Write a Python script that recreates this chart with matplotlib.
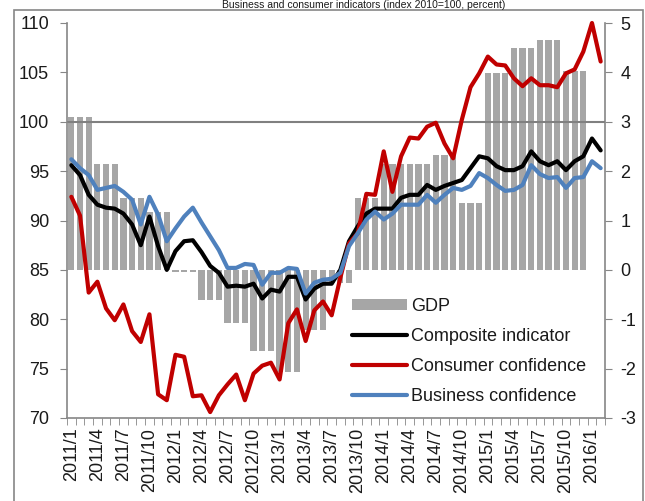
import numpy as np
import matplotlib
matplotlib.use("Agg")
import matplotlib.pyplot as plt
from matplotlib.patches import Rectangle

plt.rcParams["font.family"] = ["Liberation Sans", "DejaVu Sans"]
plt.rcParams["axes.unicode_minus"] = False

# months 2011/1 .. 2016/2
months = [f"{y}/{m}" for y in range(2011, 2017) for m in range(1, 13)][:62]

# GDP y/y %, quarterly (2011Q1 .. 2015Q4), shown on every month of the quarter
gdp_quarterly = [3.1, 2.15, 1.45, 1.17, -0.05, -0.62, -1.08, -1.65, -2.07, -1.21,
                 -0.27, 1.45, 2.15, 2.15, 2.32, 1.36, 3.99, 4.49, 4.66, 4.03]

composite = [95.6, 94.6, 92.6, 91.6, 91.3, 91.2, 90.7, 89.6, 87.5, 90.4,
             87.4, 85.0, 86.9, 87.9, 88.0, 86.8, 85.4, 84.7, 83.3, 83.4,
             83.3, 83.6, 82.1, 83.0, 82.8, 84.3, 84.3, 82.0, 83.1, 83.6,
             83.6, 85.0, 87.9, 89.4, 90.7, 91.2, 91.2, 91.2, 92.3, 92.6,
             92.6, 93.6, 93.1, 93.5, 93.8, 94.1, 95.3, 96.5, 96.3, 95.5,
             95.1, 95.1, 95.5, 97.0, 96.0, 95.6, 96.0, 95.1, 96.0, 96.5,
             98.3, 97.1]

consumer = [92.4, 90.5, 82.7, 83.8, 81.1, 79.9, 81.5, 78.8, 77.7, 80.5,
            72.4, 71.8, 76.4, 76.2, 72.2, 72.3, 70.6, 72.3, 73.4, 74.4,
            71.8, 74.5, 75.3, 75.6, 73.9, 79.6, 81.0, 77.8, 80.9, 81.8,
            80.4, 84.2, 87.7, 88.7, 92.7, 92.6, 97.0, 92.9, 96.5, 98.4,
            98.3, 99.5, 99.9, 97.8, 96.3, 100.2, 103.5, 104.9, 106.6, 105.8,
            105.7, 104.4, 103.6, 104.4, 103.7, 103.7, 103.5, 104.9, 105.3, 107.1,
            110.0, 106.1]

business = [96.2, 95.3, 94.6, 93.1, 93.3, 93.5, 92.9, 92.1, 89.6, 92.4,
            90.6, 87.9, 89.2, 90.4, 91.3, 89.8, 88.4, 87.0, 85.2, 85.2,
            85.6, 85.5, 83.5, 84.7, 84.7, 85.2, 85.1, 82.6, 83.7, 84.0,
            84.1, 84.7, 87.4, 88.7, 90.1, 90.9, 90.1, 90.7, 91.6, 91.6,
            91.6, 92.6, 91.8, 92.6, 93.3, 93.1, 93.5, 94.8, 94.3, 93.6,
            93.0, 93.1, 93.6, 95.6, 94.7, 94.3, 94.4, 93.3, 94.3, 94.4,
            96.0, 95.3]

title = "Business and consumer indicators (index 2010=100, percent)"

x = np.arange(len(months))
gdp_monthly = np.repeat(gdp_quarterly, 3)
spine_c = "#868686"
text_c = "#1a1a1a"

fig = plt.figure(figsize=(6.45, 5.01), dpi=100)
ax = fig.add_axes([67 / 645, 83 / 501, 538 / 645, 395 / 501])
ax2 = ax.twinx()
ax.set_zorder(ax2.get_zorder() + 1)
ax.patch.set_visible(False)

bars = ax2.bar(x[:len(gdp_monthly)], gdp_monthly, width=0.72, color="#A6A6A6", label="GDP")
ax.axhline(100, color="#808080", lw=1.5, zorder=1)
l1, = ax.plot(x, composite, color="black", lw=3, solid_joinstyle="round", solid_capstyle="round",
              label="Composite indicator")
l2, = ax.plot(x, consumer, color="#C00000", lw=3, solid_joinstyle="round", solid_capstyle="round",
              label="Consumer confidence", clip_on=False)
l3, = ax.plot(x, business, color="#4F81BD", lw=3, solid_joinstyle="round", solid_capstyle="round",
              label="Business confidence")

ax.set_xlim(-0.5, len(months) - 0.5)
ax.set_ylim(70, 110)
ax2.set_ylim(-3, 5)
ax.set_yticks(range(70, 111, 5))
ax2.set_yticks(range(-3, 6))

ax.set_xticks(x[::3])
ax.set_xticklabels(months[::3], rotation=90, fontsize=13, color=text_c)
ax.set_xticks(np.arange(-0.5, len(months), 1), minor=True)
ax.tick_params(axis="x", which="major", length=0, pad=7)
ax.tick_params(axis="x", which="minor", length=5, color=spine_c, direction="out")
ax.tick_params(axis="y", length=5, color=spine_c, labelsize=13, labelcolor=text_c, pad=8)
ax2.tick_params(axis="y", length=5, color=spine_c, labelsize=13, labelcolor=text_c, pad=6)

for s in ["top", "right"]:
    ax.spines[s].set_visible(False)
for s in ["top", "left", "bottom"]:
    ax2.spines[s].set_visible(False)
for sp in [ax.spines["left"], ax.spines["bottom"], ax2.spines["right"]]:
    sp.set_color(spine_c)
    sp.set_linewidth(1.2)

leg = ax.legend(handles=[bars, l1, l2, l3], loc="upper left",
                bbox_to_anchor=(352 / 645, 1 - 298 / 501), bbox_transform=fig.transFigure,
                frameon=False, fontsize=13, borderpad=0, borderaxespad=0,
                handlelength=3.05, handletextpad=0.2, labelspacing=0.72, handleheight=0.55)
for t in leg.get_texts():
    t.set_color(text_c)

fig.text(364 / 645, 1 - 8 / 501, title, ha="center", va="baseline", fontsize=7.5, color=text_c)
fig.patches.append(Rectangle((14 / 645, -0.1), 629 / 645, 0.1 + 491 / 501, transform=fig.transFigure,
                             fill=False, ec=spine_c, lw=1.2))

fig.savefig("out.png", dpi=100)
